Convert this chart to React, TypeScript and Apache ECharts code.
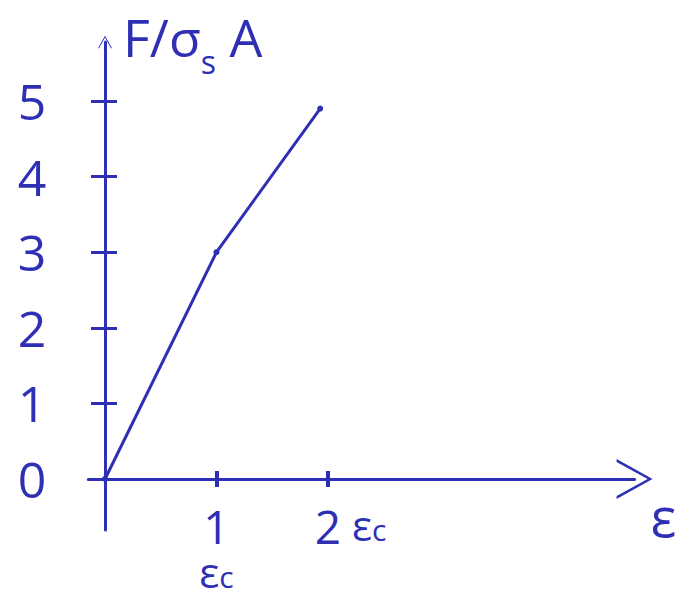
import { useEffect, useRef } from "react";
import * as echarts from "echarts";

// Force-strain sketch: F/(σs·A) against strain ε, in units of εc.
const strain = [0, 1, 1.93];
const force = [0, 3, 4.9];

const yTickValues = [1, 2, 3, 4, 5];
const yLabelValues = [0, 1, 2, 3, 4, 5];
const xTickValues = [1, 2];
const xRange = [-0.15, 4.75];
const yRange = [-0.675, 5.78];

const INK = "#2e2fb4";
const FONT = "'Open Sans', 'DejaVu Sans', sans-serif";

// open chevron arrow head, pointing up (ECharts rotates it along the axis)
const CHEVRON = "path://M0,0 L20,36 L17,36 L0,5 L-17,36 L-20,36 Z";

const subRich = {
  n: { fontSize: 46, fontFamily: FONT, color: INK, lineHeight: 50 },
  e: { fontSize: 42, fontFamily: FONT, color: INK, lineHeight: 40 },
  s: { fontSize: 30, fontFamily: FONT, color: INK, lineHeight: 30, verticalAlign: "bottom" as const },
};

export default function App() {
  const ref = useRef<HTMLDivElement>(null);

  useEffect(() => {
    if (!ref.current) return;
    const chart = echarts.init(ref.current, undefined, { renderer: "svg" });

    const lineStyle = { color: INK, width: 3 };

    chart.setOption({
      animation: false,
      backgroundColor: "#ffffff",
      grid: { left: 88.3, right: 52.4, top: 42, bottom: 67, outerBoundsMode: "none", containLabel: false },
      xAxis: [
        {
          type: "value",
          position: "bottom",
          min: xRange[0],
          max: xRange[1],
          axisLine: {
            show: true,
            onZero: true,
            onZeroAxisIndex: 0,
            lineStyle,
            symbol: ["none", CHEVRON],
            symbolSize: [40, 36],
          },
          axisTick: { show: true, customValues: xTickValues, length: 8, lineStyle: { color: INK, width: 4 } },
          axisLabel: {
            customValues: [1, 2],
            margin: -29,
            formatter: (v: number) => (v === 1 ? "{n|1}\n{e|ε}{s|c}" : "{n|" + v + "}"),
            rich: subRich,
          },
          splitLine: { show: false },
          name: "ε",
          nameLocation: "end",
          nameGap: 16,
          nameTextStyle: {
            fontSize: 54,
            fontFamily: FONT,
            color: INK,
            align: "left",
            verticalAlign: "top",
            padding: [10, 0, 0, 0],
          },
        },
        {
          type: "value",
          position: "bottom",
          min: xRange[0],
          max: xRange[1],
          axisLine: { show: false, onZero: true, onZeroAxisIndex: 0 },
          axisTick: { show: true, inside: true, customValues: xTickValues, length: 8, lineStyle: { color: INK, width: 4 } },
          axisLabel: {
            customValues: [2],
            margin: -26,
            align: "left",
            padding: [0, 0, 0, 24],
            formatter: () => "{e|ε}{s|c}",
            rich: subRich,
          },
          splitLine: { show: false },
        },
      ],
      yAxis: [
        {
          type: "value",
          position: "left",
          min: yRange[0],
          max: yRange[1],
          axisLine: {
            show: true,
            onZero: true,
            onZeroAxisIndex: 0,
            lineStyle,
            symbol: ["none", CHEVRON],
            symbolSize: [14, 18],
          },
          axisTick: { show: true, customValues: yTickValues, length: 14, lineStyle: { color: INK, width: 3 } },
          axisLabel: {
            customValues: yLabelValues,
            margin: 42,
            fontSize: 50,
            fontFamily: FONT,
            color: INK,
            padding: [14, 0, 0, 0],
          },
          splitLine: { show: false },
          name: "{a|F/σ}{s|s}{a| A}",
          nameLocation: "end",
          nameGap: 32,
          nameTextStyle: {
            align: "left",
            verticalAlign: "top",
            padding: [0, 0, 0, 18],
            rich: {
              a: { fontSize: 52, fontFamily: FONT, color: INK, lineHeight: 52, verticalAlign: "top" },
              s: { fontSize: 32, fontFamily: FONT, color: INK, lineHeight: 67, verticalAlign: "bottom" },
            },
          },
        },
        {
          type: "value",
          position: "left",
          min: yRange[0],
          max: yRange[1],
          axisLine: { show: false, onZero: true, onZeroAxisIndex: 0 },
          axisTick: { show: true, inside: true, customValues: yTickValues, length: 12, lineStyle: { color: INK, width: 3 } },
          axisLabel: { show: false },
          splitLine: { show: false },
        },
      ],
      series: [
        {
          type: "line",
          xAxisIndex: 0,
          yAxisIndex: 0,
          data: strain.map((x, i) => [x, force[i]]),
          lineStyle,
          itemStyle: { color: INK },
          symbol: "circle",
          symbolSize: 6,
          showSymbol: true,
          z: 5,
        },
      ],
    });

    return () => chart.dispose();
  }, []);

  return (
    <div
      ref={ref}
      style={{ position: "fixed", left: 0, top: 0, width: 687, height: 597 }}
    />
  );
}
